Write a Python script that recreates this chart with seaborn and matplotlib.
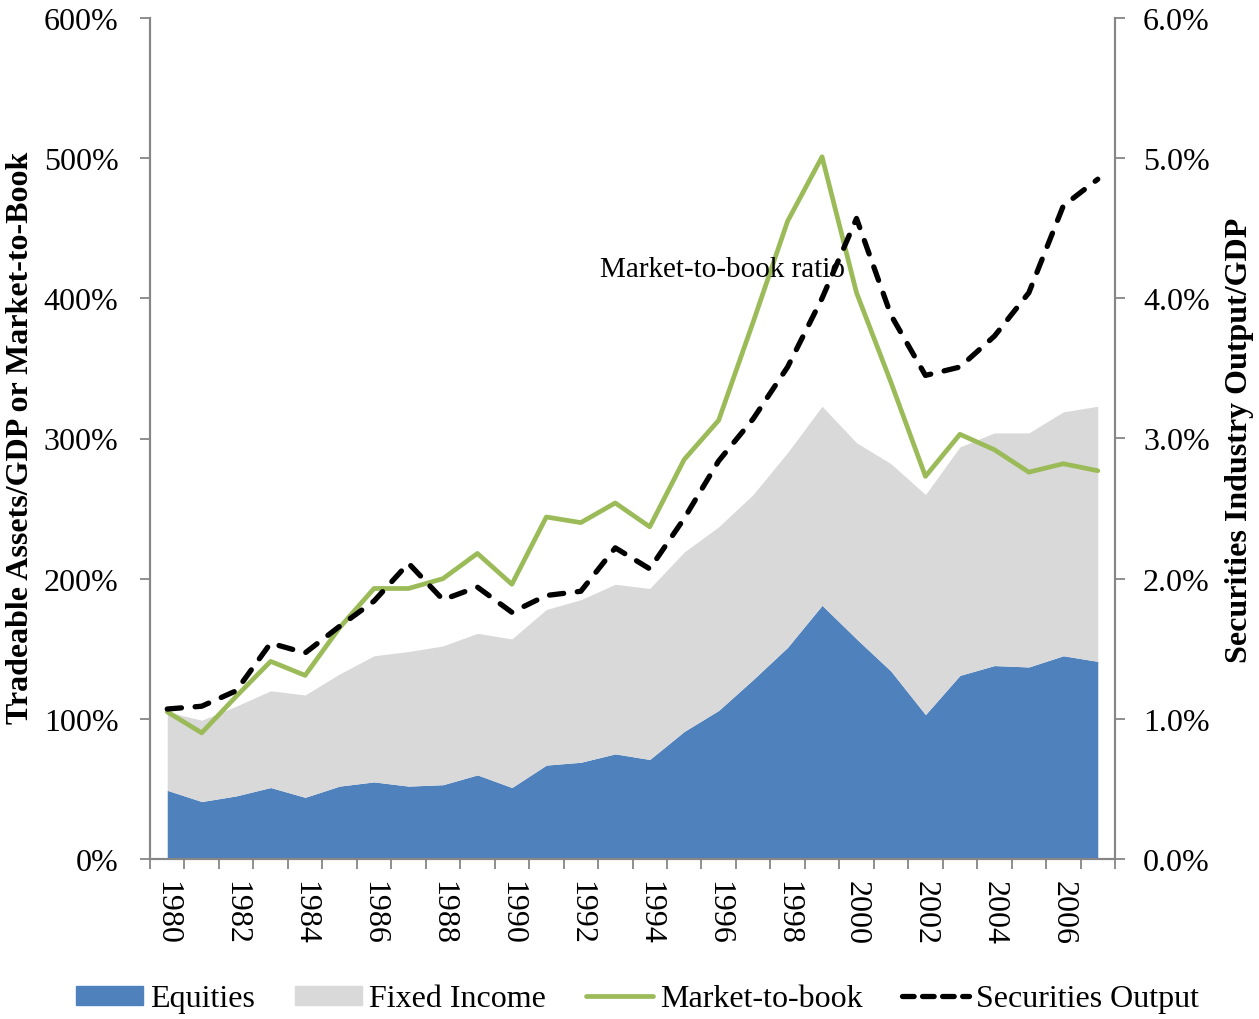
import numpy as np
import pandas as pd
import matplotlib
matplotlib.use('Agg')
import matplotlib.pyplot as plt
from matplotlib.patches import Patch
from matplotlib.lines import Line2D
from matplotlib.ticker import FuncFormatter, FixedLocator
import seaborn as sns

# Данные
years = list(range(1980, 2008))
equities = [49, 41, 45, 51, 44, 52, 55, 52, 53, 60, 51, 67, 69, 75, 71, 91,
            106, 128, 151, 181, 157, 134, 103, 131, 138, 137, 145, 141]
fixed_income = [56, 58, 64, 69, 73, 80, 90, 96, 99, 101, 106, 111, 116, 121, 122, 128,
                131, 132, 139, 142, 140, 148, 157, 163, 166, 167, 174, 182]
market_to_book = [105, 90, 116, 141, 131, 165, 193, 193, 200, 218, 196, 244, 240, 254, 237, 285,
                  313, 383, 455, 501, 404, 340, 273, 303, 292, 276, 282, 277]
sec_output = [1.07, 1.09, 1.20, 1.54, 1.47, 1.66, 1.84, 2.11, 1.85, 1.94, 1.76, 1.88, 1.91, 2.22,
              2.07, 2.43, 2.84, 3.14, 3.51, 4.00, 4.57, 3.88, 3.45, 3.51, 3.73, 4.04, 4.66, 4.85]

blue = '#4F81BD'
grey = '#D9D9D9'
green = '#9BBB59'
spine_col = '#868686'

sns.set_style('white')
plt.rcParams['font.family'] = ['Liberation Serif', 'DejaVu Serif']
plt.rcParams['text.color'] = 'black'

df = pd.DataFrame({'pos': np.arange(len(years)), 'year': years,
                   'eq': equities, 'fi': fixed_income,
                   'mtb': market_to_book, 'sec': sec_output})
df['total'] = df['eq'] + df['fi']

W, H = 1259, 1020
fig = plt.figure(figsize=(W / 100, H / 100), dpi=100)
ax = fig.add_axes([150 / W, 1 - 860 / H, (1115 - 150) / W, (860 - 19) / H])
ax2 = ax.twinx()

# Площади (накопленные)
ax.fill_between(df['pos'], 0, df['eq'], color=blue, linewidth=0)
ax.fill_between(df['pos'], df['eq'], df['total'], color=grey, linewidth=0)

sns.lineplot(data=df, x='pos', y='mtb', ax=ax, color=green, linewidth=3.4)
sns.lineplot(data=df, x='pos', y='sec', ax=ax2, color='black', linewidth=3.8,
             linestyle=(0, (2.7, 2.6)), dash_capstyle='round')

ax.set_xlim(-0.5, len(years) - 0.5)
ax.set_ylim(0, 600)
ax2.set_ylim(0, 6)
ax.set_yticks(np.arange(0, 601, 100))
ax2.set_yticks(np.arange(0, 6.01, 1))
ax.yaxis.set_major_formatter(FuncFormatter(lambda v, p: f'{v:.0f}%'))
ax2.yaxis.set_major_formatter(FuncFormatter(lambda v, p: f'{v:.1f}%'))

ax.set_xticks(df['pos'][::2])
ax.set_xticklabels([str(y) for y in years[::2]], rotation=270)
ax.xaxis.set_minor_locator(FixedLocator(np.arange(-0.5, len(years), 1)))
ax.tick_params(axis='x', which='major', length=0, pad=15, labelsize=23, labelcolor='black')
ax.tick_params(axis='x', which='minor', length=7, width=1.3, color=spine_col, bottom=True)
ax.tick_params(axis='y', length=7.2, width=1.3, color=spine_col, left=True, pad=15.5,
               labelsize=23, labelcolor='black')
ax2.tick_params(axis='y', length=7.2, width=1.3, color=spine_col, right=True, pad=13,
                labelsize=23, labelcolor='black')

for a in (ax, ax2):
    a.spines['top'].set_visible(False)
    for s in ('left', 'right', 'bottom'):
        a.spines[s].set_color(spine_col)
        a.spines[s].set_linewidth(1.5)

ax.set_xlabel('')
ax.set_ylabel('')
ax2.set_ylabel('')
fig.text(21 / W, 1 - 438 / H, 'Tradeable Assets/GDP or Market-to-Book', rotation=90,
         ha='center', va='center', fontsize=23, fontweight='bold')
fig.text(1240 / W, 1 - 440 / H, 'Securities Industry Output/GDP', rotation=90,
         ha='center', va='center', fontsize=23, fontweight='bold')

ax2.text(12.56, 421, 'Market-to-book ratio', transform=ax.transData, fontsize=21,
         ha='left', va='center', zorder=10)

handles = [Patch(color=blue), Patch(color=grey),
           Line2D([], [], color=green, linewidth=3.4),
           Line2D([], [], color='black', linewidth=3.8, dashes=(2.2, 1.6), dash_capstyle='round')]
labels = ['Equities', 'Fixed Income', 'Market-to-book', 'Securities Output']
fig.legend(handles, labels, loc='center', bbox_to_anchor=(637.5 / W, 1 - 1000 / H), ncol=4,
           frameon=False, fontsize=23, handlelength=2.1, handleheight=0.55,
           columnspacing=1.25, handletextpad=0.22, borderaxespad=0, borderpad=0)

fig.savefig('out.png', dpi=100)
